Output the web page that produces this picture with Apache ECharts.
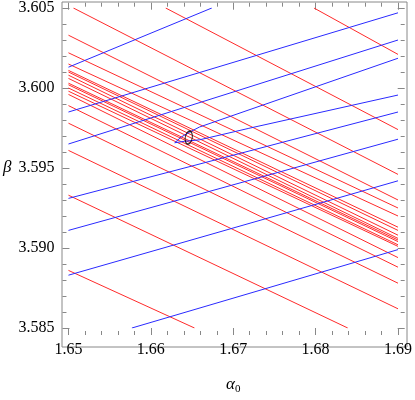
<!DOCTYPE html>
<html>
<head>
<meta charset="utf-8">
<script src="https://cdn.jsdelivr.net/npm/echarts@6/dist/echarts.min.js"></script>
<style>
  html, body { margin: 0; padding: 0; background: #fff; }
  #chart { width: 415px; height: 400px; }
</style>
</head>
<body>
<div id="chart"></div>
<script>
// red lines: [x1, y1, x2, y2]
const redLines = [
  [1.6798, 3.6050, 1.69, 3.6021],
  [1.6618, 3.6050, 1.69, 3.5974],
  [1.6506, 3.6050, 1.69, 3.5946],
  [1.65, 3.6033, 1.69, 3.5930],
  [1.65, 3.6022, 1.69, 3.5925],
  [1.65, 3.6015, 1.69, 3.5920],
  [1.65, 3.6011, 1.69, 3.5913],
  [1.65, 3.6010, 1.69, 3.5911],
  [1.65, 3.6008, 1.69, 3.5908],
  [1.65, 3.6006, 1.69, 3.5906],
  [1.65, 3.6003, 1.69, 3.5905],
  [1.65, 3.6002, 1.69, 3.5904],
  [1.65, 3.6000, 1.69, 3.5902],
  [1.65, 3.5998, 1.69, 3.5901],
  [1.65, 3.5996, 1.69, 3.5894],
  [1.65, 3.5989, 1.69, 3.5888],
  [1.65, 3.5978, 1.69, 3.5878],
  [1.65, 3.5961, 1.69, 3.5862],
  [1.65, 3.5933, 1.6839, 3.5850],
  [1.65, 3.5886, 1.6653, 3.5850]
];
// blue lines: [x1, y1, x2, y2]
const blueLines = [
  [1.65, 3.6013, 1.6674, 3.6050],
  [1.65, 3.5985, 1.69, 3.6047],
  [1.65, 3.5965, 1.69, 3.6030],
  [1.65, 3.5931, 1.69, 3.5985],
  [1.65, 3.5911, 1.69, 3.5968],
  [1.65, 3.5883, 1.69, 3.5942],
  [1.6577, 3.5850, 1.69, 3.5899]
];
// the two blue arms that meet left of the small loop
const wedgeUpper = [[1.6629, 3.59658], [1.6637, 3.59694], [1.6647, 3.59724],
  [1.6659, 3.59756], [1.69, 3.60186]];
const wedgeLower = [[1.6629, 3.59658], [1.6641, 3.59667], [1.6659, 3.59676],
  [1.6719, 3.59748], [1.69, 3.59956]];
// small closed contour
const loopCenter = [1.6646, 3.5969];

const xMin = 1.65, xMax = 1.69, xStep = 0.01;
const yMin = 3.585, yMax = 3.605, yStep = 0.005;

const frameColor = '#888';
const tickColor = '#888';
const font = 'Liberation Serif';

function tickAxis(pos, offset, isX, labels) {
  return {
    type: 'value', gridIndex: 1, position: pos, offset: offset,
    min: isX ? xMin : yMin, max: isX ? xMax : yMax, interval: isX ? xStep : yStep,
    axisLine: { show: false, onZero: false },
    splitLine: { show: false },
    axisTick: { show: true, inside: true, length: 7, lineStyle: { color: tickColor } },
    minorTick: { show: true, splitNumber: 5, length: 4, lineStyle: { color: tickColor } },
    axisLabel: labels ? {
      margin: isX ? 7 : 8, color: '#000', fontFamily: font, fontSize: 16,
      formatter: v => v.toFixed(isX ? 2 : 3)
    } : { show: false },
    name: labels ? (isX ? '{a|α}{s|0}' : 'β') : '',
    nameLocation: 'middle', nameGap: isX ? 40 : 51, nameRotate: 0,
    nameTextStyle: isX ? {
      rich: {
        a: { fontFamily: font, fontStyle: 'italic', fontSize: 17, color: '#000' },
        s: { fontFamily: font, fontSize: 11, color: '#000', verticalAlign: 'bottom', padding: [9, 0, 0, 0] }
      }
    } : { fontFamily: font, fontStyle: 'italic', fontSize: 17, color: '#000' }
  };
}

const red = '#ff2a2a';
const blue = '#2a2aff';
const series = [];
function addLine(points, color) {
  series.push({
    type: 'line', xAxisIndex: 1, yAxisIndex: 1, data: points, symbol: 'none',
    lineStyle: { color: color, width: 1 }, silent: true, animation: false
  });
}
redLines.forEach(l => addLine([[l[0], l[1]], [l[2], l[3]]], red));
blueLines.forEach(l => addLine([[l[0], l[1]], [l[2], l[3]]], blue));
addLine(wedgeUpper, blue);
addLine(wedgeLower, blue);
series.push({
  type: 'scatter', xAxisIndex: 1, yAxisIndex: 1, data: [loopCenter],
  symbol: 'circle', symbolSize: [7, 13], symbolRotate: -10, z: 5,
  itemStyle: { color: 'rgba(0,0,0,0)', borderColor: '#000', borderWidth: 1.3 },
  silent: true, animation: false
});

const chart = echarts.init(document.getElementById('chart'));
chart.setOption({
  animation: false,
  grid: [
    // outer frame
    { left: 62, right: 8, top: 2, bottom: 53, show: true, borderColor: frameColor, borderWidth: 1, backgroundColor: 'transparent' },
    // data area (frame has a little padding round the data range)
    { left: 68, right: 14.7, top: 7.3, bottom: 60 }
  ],
  xAxis: [
    { type: 'value', gridIndex: 0, show: false },
    tickAxis('bottom', 7, true, true),
    tickAxis('top', 5.3, true, false)
  ],
  yAxis: [
    { type: 'value', gridIndex: 0, show: false },
    tickAxis('left', 6, false, true),
    tickAxis('right', 6.7, false, false)
  ],
  series: series
});
</script>
</body>
</html>
